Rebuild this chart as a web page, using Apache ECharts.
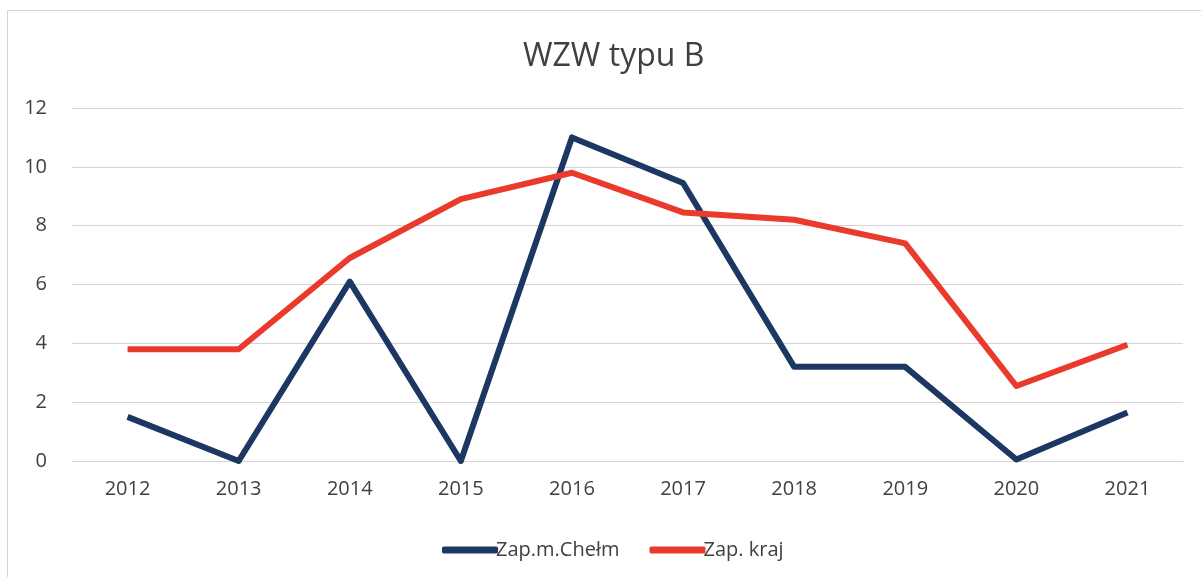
<!DOCTYPE html>
<html>
<head>
<meta charset="utf-8">
<script src="https://cdn.jsdelivr.net/npm/echarts@6/dist/echarts.min.js"></script>
<style>
  html, body { margin: 0; padding: 0; background: #fff; }
  #main { width: 1201px; height: 577px; }
  .frame {
    position: absolute; left: 7px; top: 10px; width: 1200px; height: 580px;
    border: 1px solid #d4d4d4; box-sizing: border-box; pointer-events: none;
  }
</style>
</head>
<body>
<div id="main"></div>
<div class="frame"></div>
<script>
// dane
const years = ['2012', '2013', '2014', '2015', '2016', '2017', '2018', '2019', '2020', '2021']
const chelm = [1.5, 0, 6.1, 0, 11, 9.45, 3.2, 3.2, 0.05, 1.65]
const kraj = [3.8, 3.8, 6.9, 8.9, 9.8, 8.45, 8.2, 7.4, 2.55, 3.95]

const chart = echarts.init(document.getElementById('main'))
const font = '"Open Sans", "Liberation Sans", sans-serif'

chart.setOption({
  animation: false,
  title: {
    text: 'WZW typu B',
    left: 518,
    top: 36,
    textStyle: { fontFamily: font, fontSize: 32, fontWeight: 'normal', color: '#404040' }
  },
  legend: {
    bottom: 12,
    left: 437,
    itemWidth: 56,
    itemHeight: 7,
    itemGap: 30,
    icon: 'roundRect',
    textStyle: { fontFamily: font, fontSize: 20, color: '#404040', padding: [0, 0, 0, -7] },
    data: ['Zap.m.Chełm', 'Zap. kraj']
  },
  grid: { left: 72, right: 18, top: 108, bottom: 116 },
  xAxis: {
    type: 'category',
    data: years,
    boundaryGap: true,
    axisLine: { show: true, lineStyle: { color: '#d4d4d4' } },
    axisTick: { show: false },
    axisLabel: { fontFamily: font, fontSize: 20, color: '#404040', margin: 18 }
  },
  yAxis: {
    type: 'value',
    min: 0,
    max: 12,
    interval: 2,
    axisLine: { show: false },
    axisTick: { show: false },
    axisLabel: { fontFamily: font, fontSize: 20, color: '#404040', margin: 25 },
    splitLine: { lineStyle: { color: '#d4d4d4', width: 1 } }
  },
  series: [
    {
      name: 'Zap.m.Chełm',
      type: 'line',
      data: chelm,
      showSymbol: false,
      color: '#1c3762',
      lineStyle: { width: 6, color: '#1c3762', join: 'round' }
    },
    {
      name: 'Zap. kraj',
      type: 'line',
      data: kraj,
      showSymbol: false,
      color: '#ea3a2b',
      lineStyle: { width: 6, color: '#ea3a2b', join: 'round' }
    }
  ]
})
</script>
</body>
</html>
